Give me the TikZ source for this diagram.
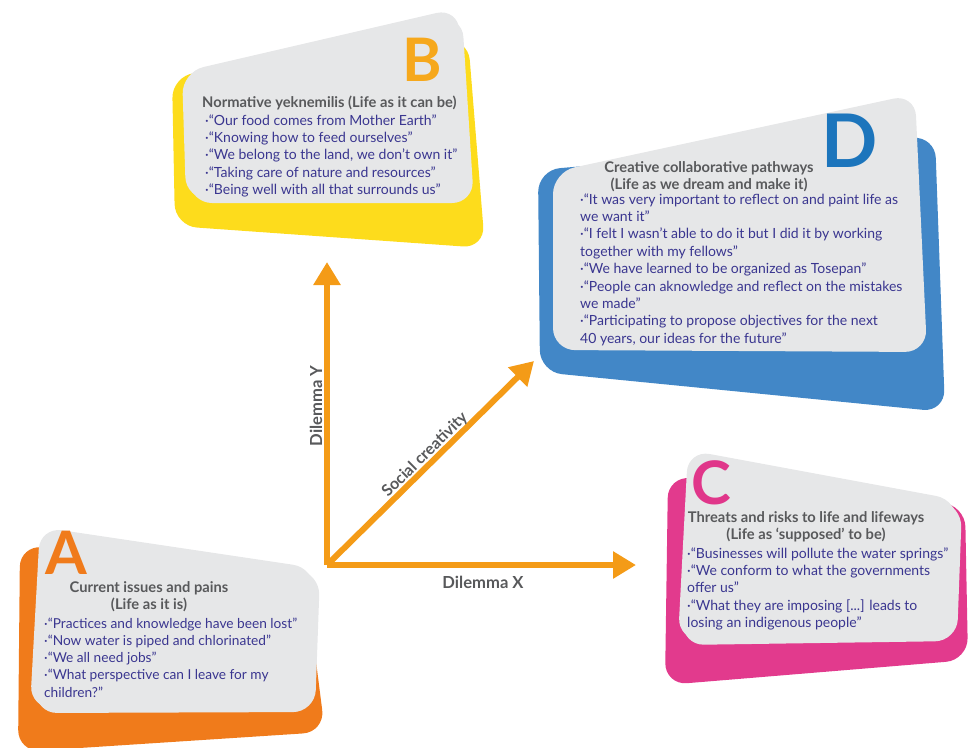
\documentclass[tikz,border=0pt]{standalone}
\usepackage{fontspec}
\setmainfont{Lato}
\usetikzlibrary{arrows.meta}
\definecolor{cardgrey}{HTML}{E6E7E8}
\definecolor{byellow}{HTML}{FDDC1C}
\definecolor{bband}{HTML}{F7A51D}
\definecolor{bletter}{HTML}{F6A81C}
\definecolor{dblue}{HTML}{4287C7}
\definecolor{dletter}{HTML}{1C75BC}
\definecolor{aorange}{HTML}{F07B1B}
\definecolor{aband}{HTML}{E64A1E}
\definecolor{cpink}{HTML}{E23A8D}
\definecolor{cband}{HTML}{C61D7D}
\definecolor{cletter}{HTML}{E0368A}
\definecolor{headgrey}{HTML}{58595B}
\definecolor{bodyblue}{HTML}{3A3690}
\definecolor{axisorange}{HTML}{F49B17}
\newcommand{\cardlines}[1]{\begin{tabular}[t]{@{}l@{}}#1\end{tabular}}
\newcommand{\cardhead}[1]{\begin{tabular}[t]{@{}c@{}}#1\end{tabular}}
\tikzset{
  blob/.style={rounded corners=22pt},
  face/.style={fill=cardgrey, rounded corners=22pt},
  headtext/.style={inner sep=0pt, text=headgrey, font=\fontsize{14.7}{17}\selectfont\bfseries},
  bodytext/.style={inner sep=0pt, text=bodyblue, font=\fontsize{14}{17.4}\selectfont},
  bigletter/.style={inner sep=0pt, font=\fontsize{60}{60}\selectfont\bfseries},
  axis/.style={draw=axisorange, line width=6pt, -{Triangle[width=26pt,length=23pt]}},
  axislabel/.style={inner sep=0pt, text=headgrey, font=\fontsize{16.6}{18}\selectfont\bfseries}
}
\begin{document}
\begin{tikzpicture}[x=1pt,y=-1pt]
\useasboundingbox (0,0) rectangle (968,747);

% ---------- Card B ----------
\fill[byellow, blob] (172,76) -- (468,38) -- (485,248) -- (175,226) -- cycle;
\fill[bband, face] (186,77) -- (462,15) -- (474,203) -- (190,203) -- cycle;
\fill[face] (182,72) -- (458,8) -- (470,199) -- (186,199) -- cycle;
\node[bigletter, text=bletter] (Bl) at (422,60) {B};
\node[headtext, anchor=base west] (Bh) at (202,107) {Normative yeknemilis (Life as it can be)};
\node[bodytext, anchor=base west] (Bb) at (205,125) {\cardlines{%
·“Our food comes from Mother Earth”\\
·“Knowing how to feed ourselves”\\
·“We belong to the land, we don’t own it”\\
·“Taking care of nature and resources”\\
·“Being well with all that surrounds us”}};

% ---------- Card D ----------
\fill[dblue, blob] (538,170) -- (935,136) -- (945,412) -- (540,372) -- cycle;
\fill[face] (553,172) -- (915,94) -- (927,352) -- (553,350) -- cycle;
\node[bigletter, text=dletter, font=\fontsize{74}{74}\selectfont\bfseries] (Dl) at (850,141) {D};
\node[headtext, anchor=base] (Dh) at (709,172) {\cardhead{%
Creative collaborative pathways\\
(Life as we dream and make it)}};
\node[bodytext, anchor=base west] (Db) at (580,204) {\cardlines{%
·“It was very important to reflect on and paint life as\\
we want it”\\
·“I felt I wasn’t able to do it but I did it by working\\
together with my fellows”\\
·“We have learned to be organized as Tosepan”\\
·“People can aknowledge and reflect on the mistakes\\
we made”\\
·“Participating to propose objectives for the next\\
40 years, our ideas for the future”}};

% ---------- Card A ----------
\fill[aorange, blob] (20,545) -- (305,575) -- (325,732) -- (18,752) -- cycle;
\fill[aband, face] (45,532) -- (320,573) -- (315,712) -- (35,713) -- cycle;
\fill[face] (40,527) -- (315,568) -- (310,707) -- (30,708) -- cycle;
\node[bigletter, text=aorange] (Al) at (66,553) {A};
\node[headtext, anchor=base] (Ah) at (149,592) {\cardhead{%
Current issues and pains\\
(Life as it is)}};
\node[bodytext, anchor=base west, font=\fontsize{13.7}{17.3}\selectfont] (Ab) at (44,628) {\cardlines{%
·“Practices and knowledge have been lost”\\
·“Now water is piped and chlorinated”\\
·“We all need jobs”\\
·“What perspective can I leave for my\\
children?”}};

% ---------- Card C ----------
\fill[cpink, blob] (668,476) -- (965,505) -- (968,660) -- (665,685) -- cycle;
\fill[cband, face] (692,455) -- (962,505) -- (957,641) -- (682,645) -- cycle;
\fill[face] (688,450) -- (958,500) -- (953,636) -- (678,640) -- cycle;
\node[bigletter, text=cletter] (Cl) at (711,483) {C};
\node[headtext, anchor=base] (Ch) at (806,522) {\cardhead{%
Threats and risks to life and lifeways\\
(Life as ‘supposed’ to be)}};
\node[bodytext, anchor=base west] (Cb) at (687,558) {\cardlines{%
·“Businesses will pollute the water springs”\\
·“We conform to what the governments\\
offer us”\\
·“What they are imposing [...] leads to\\
losing an indigenous people”}};

% ---------- Axes ----------
\coordinate (O) at (327,565);
\coordinate (Ytip) at (327,262);
\coordinate (Xtip) at (636,565);
\coordinate (Stip) at (534,361);
\draw[axis] (O) -- (Ytip);
\draw[axis] (O) -- (Xtip);
\draw[axis] (O) -- (Stip);
\node[axislabel, rotate=90] (Ylab) at (316,406) {Dilemma Y};
\node[axislabel] (Xlab) at (483,582) {Dilemma X};
\node[axislabel, rotate=44.6, font=\fontsize{16}{18}\selectfont\bfseries] (Slab) at (425,455) {Social creativity};
\end{tikzpicture}
\end{document}
